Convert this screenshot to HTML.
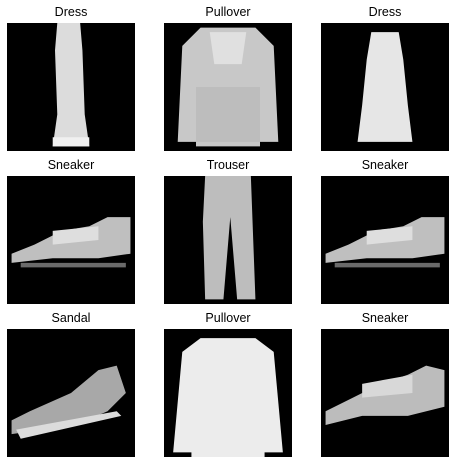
<!DOCTYPE html>
<html><head><style>
body{margin:0;background:#fff;width:457px;height:465px;position:relative;overflow:hidden;font-family:"Liberation Sans",sans-serif}
.t{position:absolute;width:128px;text-align:center;font-size:12.5px;color:#000}
svg{position:absolute}
</style></head><body>
<div id="root"></div>
<script>
const titles=["Dress","Pullover","Dress","Sneaker","Trouser","Sneaker","Sandal","Pullover","Sneaker"];
const colX=[7,164,321], rowY=[23,176,329];
// shapes in 28x28 grid units: [points, fill]
const shapes={
Dress:[["11,0 16,0 16.5,6 17,20 18,27 10,27 11,20 10.5,6","#dcdcdc"],["10,25 18,25 18,27 10,27","#f0f0f0"]],
Pullover:[["8,1 20,1 24,5 25,26 21,26 21,27 7,27 7,26 3,26 4,5","#c8c8c8"],["10,2 18,2 17,9 11,9","#e0e0e0"],["7,14 21,14 21,26 7,26","#bdbdbd"]],
Dress2:[["11,2 17,2 18,8 19,18 20,26 8,26 9,18 10,8","#e6e6e6"]],
Sneaker:[["1,17 6,15 12,12 18,11 22,9 27,9 27,17 20,18 10,18 1,19","#bfbfbf"],["3,19 26,19 26,20 3,20","#6a6a6a"],["10,12 20,11 20,14 10,15","#dedede"]],
Trouser:[["9,0 19,0 20,27 16,27 14.5,9 13,27 9,27 8.5,10","#bdbdbd"]],
Sandal:[["1,20 5,18 14,14 20,9 24,8 26,14 22,18 15,21 1,23","#a8a8a8"],["2,22 24,18 25,19 3,24","#dcdcdc"]],
Pullover2:[["8,2 20,2 24,5 26,27 22,27 22,28 6,28 6,27 2,27 4,5","#ececec"]],
Sneaker2:[["1,18 7,15 13,12 19,10 23,8 27,9 27,17 19,19 9,19 1,21","#bcbcbc"],["9,12 20,10 20,14 9,15","#d8d8d8"]]
};
const keys=["Dress","Pullover","Dress2","Sneaker","Trouser","Sneaker","Sandal","Pullover2","Sneaker2"];
const root=document.getElementById('root');
for(let i=0;i<9;i++){
 const x=colX[i%3], y=rowY[Math.floor(i/3)];
 const t=document.createElement('div');t.className='t';
 
 
 t.style.left=x+'px';t.style.top=(y-18)+'px';t.textContent=titles[i];
 document.body.appendChild(t);
 const s=document.createElementNS('http://www.w3.org/2000/svg','svg');
 
 
 s.setAttribute('width',128);s.setAttribute('height',128);s.setAttribute('viewBox','0 0 28 28');
 s.style.left=x+'px';s.style.top=y+'px';
 let h='<rect width="28" height="28" fill="#000"/>';
 for(const [p,f] of shapes[keys[i]]) h+=`<polygon points="${p}" fill="${f}"/>`;
 s.innerHTML=h;
 document.body.appendChild(s);
}
</script>
</body></html>
